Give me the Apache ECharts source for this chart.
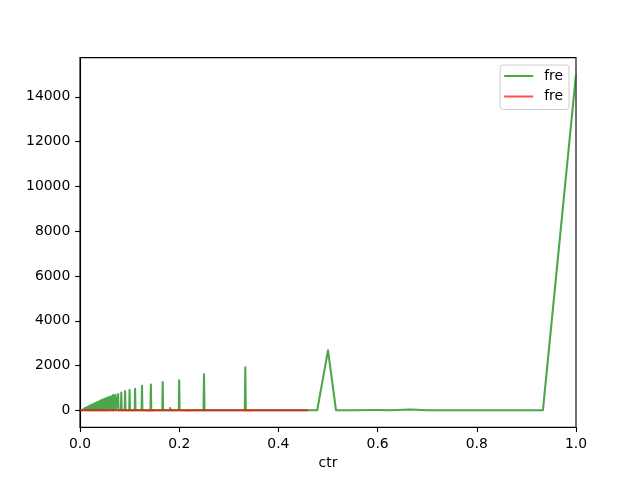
<!DOCTYPE html>
<html>
<head>
<meta charset="utf-8">
<script src="https://cdn.jsdelivr.net/npm/echarts@6/dist/echarts.min.js"></script>
<style>html,body{margin:0;padding:0;background:#fff;}#c{width:640px;height:480px;}</style>
</head>
<body>
<div id="c"></div>
<script>
var xTicks = [0.0, 0.2, 0.4, 0.6, 0.8, 1.0];
var yTicks = [0, 2000, 4000, 6000, 8000, 10000, 12000, 14000];
var legendLabels = ['fre', 'fre'];
var xName = 'ctr';

var greenX = [0.000,0.0050,0.0100,0.0112,0.0125,0.0134,0.0143,0.0155,0.0167,0.0175,0.0182,0.0191,0.0200,0.0211,0.0222,0.0236,0.0250,0.0256,0.0263,0.0270,0.0278,0.0286,0.0294,0.0303,0.0312,0.0323,0.0333,0.0339,0.0345,0.0351,0.0357,0.0364,0.0370,0.0377,0.0385,0.0392,0.0400,0.0408,0.0417,0.0426,0.0435,0.0444,0.0455,0.0465,0.0476,0.0488,0.0500,0.0513,0.0526,0.0541,0.0556,0.0571,0.0588,0.0606,0.0625,0.0645,
0.0660,0.0667,0.0674,0.0706,0.0714,0.0722,0.0761,0.0769,0.0777,0.0825,0.0833,0.0841,0.0901,0.0909,0.0917,0.0992,0.1000,0.1008,0.1103,0.1111,0.1119,0.1170,0.1176,0.1182,0.1242,0.1250,0.1258,0.1328,0.1333,0.1338,0.1421,0.1429,0.1437,0.1533,0.1538,0.1543,0.1659,0.1667,0.1675,0.1812,0.1818,0.1824,0.1992,0.2000,0.2008,0.2216,0.2222,0.2228,0.2490,0.2500,0.2510,0.2851,0.2857,0.2863,0.2994,0.3000,0.3006,0.3323,0.3333,0.3343,0.3744,0.3750,0.3756,0.3994,0.4000,0.4006,0.4280,0.4286,0.4292,0.4783,0.5000,0.5161,0.5500,0.6000,0.6250,0.6667,0.7000,0.7500,0.8000,0.8571,0.9000,0.9333,1.0000];
var greenY = [0,5,100,5,125,5,150,5,170,5,190,5,210,5,235,5,260,5,275,5,290,5,305,5,325,5,350,5,360,5,375,5,385,5,400,5,420,5,435,5,455,5,475,5,495,5,520,5,545,5,570,5,600,5,625,5,
5,690,5,5,700,5,5,730,5,5,800,5,5,865,5,5,920,5,5,960,5,5,70,5,5,1100,5,5,80,5,5,1150,5,5,70,5,5,1265,5,5,110,5,5,1340,5,5,80,5,5,1610,5,5,90,5,5,30,5,5,1920,5,5,20,5,5,70,5,5,30,5,10,2680,10,5,15,10,40,5,5,5,5,5,5,15000];

var redX = [0.00,0.01,0.02,0.03,0.04,0.05,0.06,0.07,0.08,0.09,0.10,0.11,0.12,0.13,0.14,0.15,0.16,0.17,0.18,0.19,0.20,0.21,0.22,0.23,0.24,0.25,0.26,0.27,0.28,0.29,0.30,0.31,0.32,0.33,0.34,0.35,0.36,0.37,0.38,0.39,0.40,0.41,0.42,0.43,0.44,0.45,0.46];
var redY = [5,8,3,6,10,4,7,5,9,3,6,8,4,10,2,7,6,9,3,7,5,8,2,6,9,4,7,5,8,3,6,7,4,9,2,7,6,8,3,7,5,9,3,6,7,4,5];

function zip(a, b) { var o = []; for (var i = 0; i < a.length; i++) o.push([a[i], b[i]]); return o; }

var font = 'DejaVu Sans';
var chart = echarts.init(document.getElementById('c'), null, {renderer: 'canvas'});
chart.setOption({
  animation: false,
  backgroundColor: '#ffffff',
  grid: {left: 80, right: 64, top: 57.6, bottom: 52.8, show: true, borderColor: '#000', borderWidth: 1.1, backgroundColor: 'transparent'},
  legend: {
    orient: 'vertical', right: 71, top: 65,
    data: ['fre_a', 'fre_b'],
    formatter: function (n) { return n === 'fre_a' ? legendLabels[0] : legendLabels[1]; },
    icon: 'rect', itemWidth: 29, itemHeight: 2, itemGap: 6.5,
    padding: [4, 6, 6, 4],
    backgroundColor: 'rgba(255,255,255,0.8)', borderColor: '#cccccc', borderWidth: 1, borderRadius: 3,
    textStyle: {fontFamily: font, fontSize: 13.9, color: '#000', padding: [0, 0, 0, 6]}
  },
  xAxis: {
    type: 'value', min: 0, max: 1, interval: 0.2,
    name: xName, nameLocation: 'middle', nameGap: 29,
    nameTextStyle: {fontFamily: font, fontSize: 13.9, color: '#000', verticalAlign: 'top'},
    axisLine: {show: true, onZero: false, lineStyle: {color: '#000', width: 1.1}},
    axisTick: {show: true, length: 4.9, lineStyle: {color: '#000', width: 1.1}},
    axisLabel: {fontFamily: font, fontSize: 13.9, color: '#000', margin: 9.7,
      formatter: function (v) { return v.toFixed(1); }},
    splitLine: {show: false}
  },
  yAxis: {
    type: 'value', min: -750, max: 15750,
    axisLine: {show: true, onZero: false, lineStyle: {color: '#000', width: 1.1}},
    axisTick: {show: true, length: 4.9, customValues: yTicks, lineStyle: {color: '#000', width: 1.1}},
    axisLabel: {fontFamily: font, fontSize: 13.9, color: '#000', margin: 9.7, customValues: yTicks,
      formatter: function (v) { return String(Math.round(v)); }},
    splitLine: {show: false}
  },
  series: [
    {name: 'fre_a', type: 'line', data: zip(greenX, greenY), showSymbol: false, symbol: 'none',
      color: 'rgba(0,128,0,0.7)', lineStyle: {width: 2.08, color: 'rgba(0,128,0,0.7)', join: 'round', cap: 'butt'}},
    {name: 'fre_b', type: 'line', data: zip(redX, redY), showSymbol: false, symbol: 'none',
      color: 'rgba(255,0,0,0.7)', lineStyle: {width: 2.08, color: 'rgba(255,0,0,0.7)', join: 'round'}}
  ]
});
</script>
</body>
</html>
